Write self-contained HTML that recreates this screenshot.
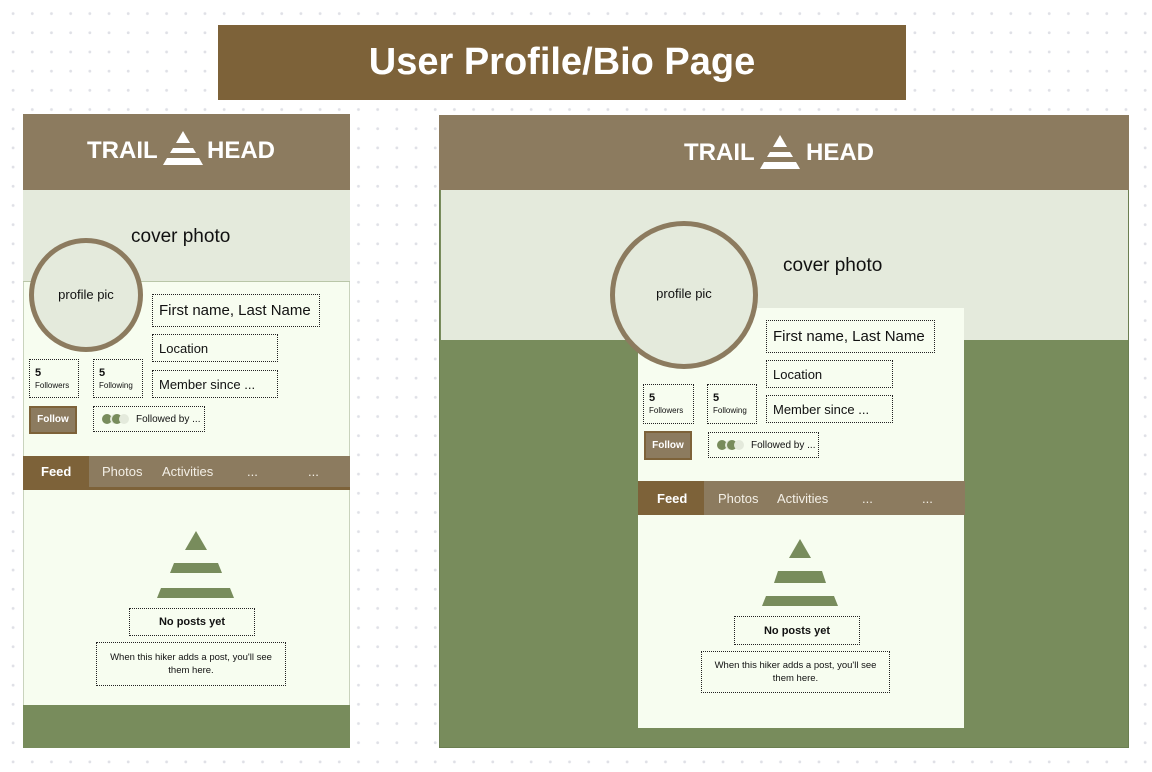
<!DOCTYPE html>
<html><head><meta charset="utf-8"><style>
*{margin:0;padding:0;box-sizing:border-box}
body{width:1152px;height:772px;position:relative;overflow:hidden;font-family:"Liberation Sans",sans-serif;
background-color:#fff;background-image:radial-gradient(circle,#dfe0e6 1.3px,transparent 1.6px);background-size:19.2px 19.2px;background-position:3.5px 4px}
.a{position:absolute}
.d{position:absolute;border:1.3px dotted #222;font-size:13px;color:#111;display:flex;align-items:center;padding-left:6px}
.logo{position:absolute;color:#fff;font-weight:bold;font-size:24px;line-height:28px}
.tabs{position:absolute;background:#8c7b5f;color:#f3efe6;font-size:13px}
.tabs span{position:absolute;top:8px}
</style></head><body>
<div class="a" style="left:218px;top:25px;width:688px;height:75px;background:#7d6239;color:#fff;font-weight:bold;font-size:38px;text-align:center;line-height:75px">User Profile/Bio Page</div>

<!-- LEFT -->
<div class="a" style="left:23px;top:114px;width:327px;height:634px;background:#f7fdf0;border:1px solid #c9d3bd"></div>
<div class="a" style="left:23px;top:114px;width:327px;height:76px;background:#8c7b5f"></div>
<div class="logo" style="left:87px;top:137px">TRAIL</div>
<svg class="a" style="left:162px;top:130px" width="42" height="36" viewBox="0 0 42 36"><polygon points="21,1 28,13 14,13" fill="#fff"/><polygon points="11,18 31,18 34,23 8,23" fill="#fff"/><polygon points="5,28 37,28 41,35 1,35" fill="#fff"/></svg>
<div class="logo" style="left:207px;top:137px">HEAD</div>
<div class="a" style="left:23px;top:190px;width:327px;height:92px;background:#e4eadc;border-bottom:1px solid #b9c6a8"></div>
<div class="a" style="left:131px;top:226px;font-size:19px;color:#111">cover photo</div>
<div class="a" style="left:29px;top:238px;width:114px;height:114px;border-radius:50%;background:#e4eadc;border:5px solid #8c7b5f"></div>
<div class="a" style="left:29px;top:287px;width:114px;text-align:center;font-size:13px;color:#111">profile pic</div>
<div class="d" style="left:152px;top:294px;width:168px;height:33px;font-size:15px">First name, Last Name</div>
<div class="d" style="left:152px;top:334px;width:126px;height:28px">Location</div>
<div class="d" style="left:152px;top:370px;width:126px;height:28px">Member since ...</div>
<div class="d" style="left:29px;top:359px;width:50px;height:39px;display:block;padding:7px 0 0 5px;font-size:8px;line-height:12px"><b style="font-size:11px">5</b><br>Followers</div>
<div class="d" style="left:93px;top:359px;width:50px;height:39px;display:block;padding:7px 0 0 5px;font-size:8px;line-height:12px"><b style="font-size:11px">5</b><br>Following</div>
<div class="a" style="left:29px;top:406px;width:48px;height:28px;background:#8c7b5f;border:2px solid #7d6239;color:#fff;font-size:10px;font-weight:bold;text-align:center;line-height:24px">Follow</div>
<div class="d" style="left:93px;top:406px;width:112px;height:26px;font-size:10px"><svg width="30" height="12" style="margin-right:6px"><circle cx="7" cy="6" r="5" fill="#788c5c"/><circle cx="15" cy="6" r="5" fill="#e4eadc"/><circle cx="17" cy="6" r="5" fill="#788c5c"/><circle cx="24" cy="6" r="5" fill="#e4eadc"/></svg>Followed by ...</div>
<div class="tabs" style="left:23px;top:456px;width:327px;height:34px;border-bottom:3px solid #7d6239">
<div class="a" style="left:0;top:0;width:66px;height:31px;background:#7d6239"></div>
<span style="left:18px;font-weight:bold;color:#fff">Feed</span><span style="left:79px">Photos</span><span style="left:139px">Activities</span><span style="left:224px">...</span><span style="left:285px">...</span></div>
<svg class="a" style="left:150px;top:530px" width="90" height="70"><polygon points="46,1 57,20 35,20" fill="#788c5c"/><polygon points="24,33 68,33 72,43 20,43" fill="#788c5c"/><polygon points="11,58 80,58 84,68 7,68" fill="#788c5c"/></svg>
<div class="d" style="left:129px;top:608px;width:126px;height:28px;justify-content:center;padding:0;font-weight:bold;font-size:11px">No posts yet</div>
<div class="d" style="left:96px;top:642px;width:190px;height:44px;justify-content:center;padding:0;text-align:center;font-size:9.5px;line-height:13px">When this hiker adds a post, you'll see<br>them here.</div>
<div class="a" style="left:23px;top:705px;width:327px;height:43px;background:#788c5c"></div>

<!-- RIGHT -->
<div class="a" style="left:439px;top:115px;width:690px;height:633px;background:#788c5c;border:1px solid #6b7f50"></div>
<div class="a" style="left:439px;top:115px;width:690px;height:75px;background:#8c7b5f"></div>
<div class="logo" style="left:684px;top:139px">TRAIL</div>
<svg class="a" style="left:759px;top:134px" width="42" height="36" viewBox="0 0 42 36"><polygon points="21,1 28,13 14,13" fill="#fff"/><polygon points="11,18 31,18 34,23 8,23" fill="#fff"/><polygon points="5,28 37,28 41,35 1,35" fill="#fff"/></svg>
<div class="logo" style="left:806px;top:139px">HEAD</div>
<div class="a" style="left:441px;top:190px;width:687px;height:150px;background:#e4eadc"></div>
<div class="a" style="left:638px;top:308px;width:326px;height:420px;background:#f7fdf0"></div>
<div class="a" style="left:783px;top:255px;font-size:19px;color:#111">cover photo</div>
<div class="a" style="left:610px;top:221px;width:148px;height:148px;border-radius:50%;background:#e4eadc;border:5px solid #8c7b5f"></div>
<div class="a" style="left:610px;top:286px;width:148px;text-align:center;font-size:13px;color:#111">profile pic</div>
<div class="d" style="left:766px;top:320px;width:169px;height:33px;font-size:15px">First name, Last Name</div>
<div class="d" style="left:766px;top:360px;width:127px;height:28px">Location</div>
<div class="d" style="left:766px;top:395px;width:127px;height:28px">Member since ...</div>
<div class="d" style="left:643px;top:384px;width:51px;height:40px;display:block;padding:7px 0 0 5px;font-size:8px;line-height:12px"><b style="font-size:11px">5</b><br>Followers</div>
<div class="d" style="left:707px;top:384px;width:50px;height:40px;display:block;padding:7px 0 0 5px;font-size:8px;line-height:12px"><b style="font-size:11px">5</b><br>Following</div>
<div class="a" style="left:644px;top:431px;width:48px;height:29px;background:#8c7b5f;border:2px solid #7d6239;color:#fff;font-size:10px;font-weight:bold;text-align:center;line-height:25px">Follow</div>
<div class="d" style="left:708px;top:432px;width:111px;height:26px;font-size:10px"><svg width="30" height="12" style="margin-right:6px"><circle cx="7" cy="6" r="5" fill="#788c5c"/><circle cx="15" cy="6" r="5" fill="#e4eadc"/><circle cx="17" cy="6" r="5" fill="#788c5c"/><circle cx="24" cy="6" r="5" fill="#e4eadc"/></svg>Followed by ...</div>
<div class="tabs" style="left:638px;top:481px;width:327px;height:34px">
<div class="a" style="left:0;top:0;width:66px;height:34px;background:#7d6239"></div>
<span style="left:19px;top:10px;font-weight:bold;color:#fff">Feed</span><span style="left:80px;top:10px">Photos</span><span style="left:139px;top:10px">Activities</span><span style="left:224px;top:10px">...</span><span style="left:284px;top:10px">...</span></div>
<svg class="a" style="left:755px;top:538px" width="90" height="70"><polygon points="45,1 56,20 34,20" fill="#788c5c"/><polygon points="23,33 67,33 71,45 19,45" fill="#788c5c"/><polygon points="11,58 79,58 83,68 7,68" fill="#788c5c"/></svg>
<div class="d" style="left:734px;top:616px;width:126px;height:29px;justify-content:center;padding:0;font-weight:bold;font-size:11px">No posts yet</div>
<div class="d" style="left:701px;top:651px;width:189px;height:42px;justify-content:center;padding:0;text-align:center;font-size:9.5px;line-height:13px">When this hiker adds a post, you'll see<br>them here.</div>
</body></html>
